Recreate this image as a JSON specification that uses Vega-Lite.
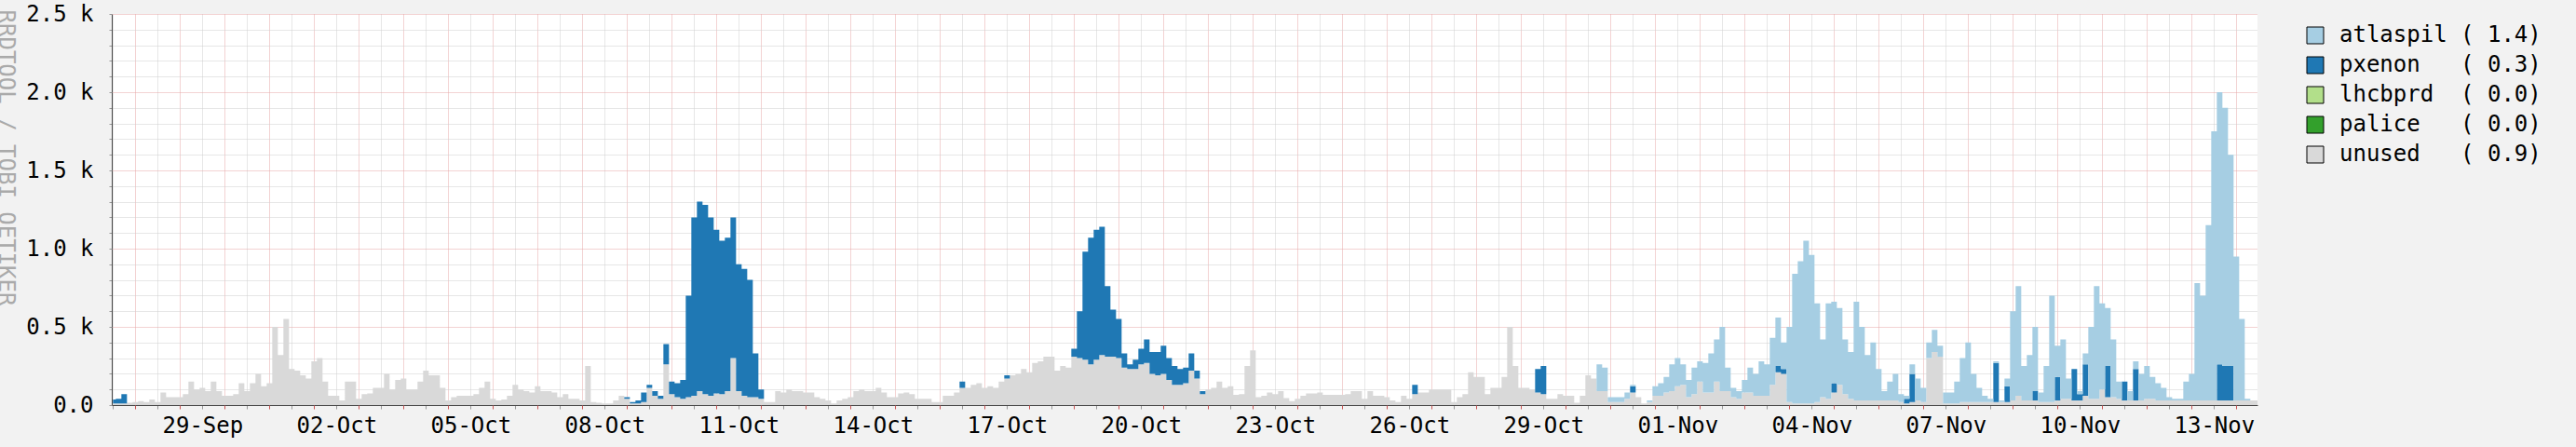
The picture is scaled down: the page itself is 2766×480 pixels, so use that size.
{
"$schema":"https://vega.github.io/schema/vega-lite/v6.json",
"width":2304,"height":420,
"autosize":{"type":"none"},
"padding":{"left":120,"top":15,"right":342,"bottom":45},
"background":"#f2f2f2",
"config":{"view":{"fill":"#ffffff","stroke":null},"font":"DejaVu Sans Mono"},
"data":{"values":[
{"t":"2023-09-27T12:00:00Z","u":10,"p":25,"a":0},{"t":"2023-09-27T15:00:00Z","u":10,"p":30,"a":0},{"t":"2023-09-27T18:00:00Z","u":10,"p":60,"a":0},{"t":"2023-09-27T21:00:00Z","u":15,"p":0,"a":0},
{"t":"2023-09-28T00:00:00Z","u":20,"p":0,"a":0},{"t":"2023-09-28T03:00:00Z","u":25,"p":0,"a":0},{"t":"2023-09-28T06:00:00Z","u":20,"p":0,"a":0},{"t":"2023-09-28T09:00:00Z","u":35,"p":0,"a":0},{"t":"2023-09-28T12:00:00Z","u":20,"p":0,"a":0},{"t":"2023-09-28T15:00:00Z","u":80,"p":0,"a":0},{"t":"2023-09-28T18:00:00Z","u":50,"p":0,"a":0},{"t":"2023-09-28T21:00:00Z","u":50,"p":0,"a":0},
{"t":"2023-09-29T00:00:00Z","u":50,"p":0,"a":0},{"t":"2023-09-29T03:00:00Z","u":70,"p":0,"a":0},{"t":"2023-09-29T06:00:00Z","u":150,"p":0,"a":0},{"t":"2023-09-29T09:00:00Z","u":100,"p":0,"a":0},{"t":"2023-09-29T12:00:00Z","u":110,"p":0,"a":0},{"t":"2023-09-29T15:00:00Z","u":90,"p":0,"a":0},{"t":"2023-09-29T18:00:00Z","u":150,"p":0,"a":0},{"t":"2023-09-29T21:00:00Z","u":90,"p":0,"a":0},
{"t":"2023-09-30T00:00:00Z","u":60,"p":0,"a":0},{"t":"2023-09-30T03:00:00Z","u":60,"p":0,"a":0},{"t":"2023-09-30T06:00:00Z","u":70,"p":0,"a":0},{"t":"2023-09-30T09:00:00Z","u":140,"p":0,"a":0},{"t":"2023-09-30T12:00:00Z","u":90,"p":0,"a":0},{"t":"2023-09-30T15:00:00Z","u":140,"p":0,"a":0},{"t":"2023-09-30T18:00:00Z","u":200,"p":0,"a":0},{"t":"2023-09-30T21:00:00Z","u":120,"p":0,"a":0},
{"t":"2023-10-01T00:00:00Z","u":140,"p":0,"a":0},{"t":"2023-10-01T03:00:00Z","u":500,"p":0,"a":0},{"t":"2023-10-01T06:00:00Z","u":320,"p":0,"a":0},{"t":"2023-10-01T09:00:00Z","u":550,"p":0,"a":0},{"t":"2023-10-01T12:00:00Z","u":230,"p":0,"a":0},{"t":"2023-10-01T15:00:00Z","u":220,"p":0,"a":0},{"t":"2023-10-01T18:00:00Z","u":190,"p":0,"a":0},{"t":"2023-10-01T21:00:00Z","u":170,"p":0,"a":0},
{"t":"2023-10-02T00:00:00Z","u":280,"p":0,"a":0},{"t":"2023-10-02T03:00:00Z","u":300,"p":0,"a":0},{"t":"2023-10-02T06:00:00Z","u":150,"p":0,"a":0},{"t":"2023-10-02T09:00:00Z","u":60,"p":0,"a":0},{"t":"2023-10-02T12:00:00Z","u":60,"p":0,"a":0},{"t":"2023-10-02T15:00:00Z","u":30,"p":0,"a":0},{"t":"2023-10-02T18:00:00Z","u":150,"p":0,"a":0},{"t":"2023-10-02T21:00:00Z","u":150,"p":0,"a":0},
{"t":"2023-10-03T00:00:00Z","u":40,"p":0,"a":0},{"t":"2023-10-03T03:00:00Z","u":70,"p":0,"a":0},{"t":"2023-10-03T06:00:00Z","u":75,"p":0,"a":0},{"t":"2023-10-03T09:00:00Z","u":110,"p":0,"a":0},{"t":"2023-10-03T12:00:00Z","u":110,"p":0,"a":0},{"t":"2023-10-03T15:00:00Z","u":200,"p":0,"a":0},{"t":"2023-10-03T18:00:00Z","u":100,"p":0,"a":0},{"t":"2023-10-03T21:00:00Z","u":160,"p":0,"a":0},
{"t":"2023-10-04T00:00:00Z","u":170,"p":0,"a":0},{"t":"2023-10-04T03:00:00Z","u":100,"p":0,"a":0},{"t":"2023-10-04T06:00:00Z","u":100,"p":0,"a":0},{"t":"2023-10-04T09:00:00Z","u":150,"p":0,"a":0},{"t":"2023-10-04T12:00:00Z","u":220,"p":0,"a":0},{"t":"2023-10-04T15:00:00Z","u":190,"p":0,"a":0},{"t":"2023-10-04T18:00:00Z","u":190,"p":0,"a":0},{"t":"2023-10-04T21:00:00Z","u":110,"p":0,"a":0},
{"t":"2023-10-05T00:00:00Z","u":30,"p":0,"a":0},{"t":"2023-10-05T03:00:00Z","u":50,"p":0,"a":0},{"t":"2023-10-05T06:00:00Z","u":60,"p":0,"a":0},{"t":"2023-10-05T09:00:00Z","u":60,"p":0,"a":0},{"t":"2023-10-05T12:00:00Z","u":60,"p":0,"a":0},{"t":"2023-10-05T15:00:00Z","u":70,"p":0,"a":0},{"t":"2023-10-05T18:00:00Z","u":110,"p":0,"a":0},{"t":"2023-10-05T21:00:00Z","u":150,"p":0,"a":0},
{"t":"2023-10-06T00:00:00Z","u":40,"p":0,"a":0},{"t":"2023-10-06T03:00:00Z","u":30,"p":0,"a":0},{"t":"2023-10-06T06:00:00Z","u":35,"p":0,"a":0},{"t":"2023-10-06T09:00:00Z","u":60,"p":0,"a":0},{"t":"2023-10-06T12:00:00Z","u":130,"p":0,"a":0},{"t":"2023-10-06T15:00:00Z","u":100,"p":0,"a":0},{"t":"2023-10-06T18:00:00Z","u":90,"p":0,"a":0},{"t":"2023-10-06T21:00:00Z","u":80,"p":0,"a":0},
{"t":"2023-10-07T00:00:00Z","u":120,"p":0,"a":0},{"t":"2023-10-07T03:00:00Z","u":90,"p":0,"a":0},{"t":"2023-10-07T06:00:00Z","u":90,"p":0,"a":0},{"t":"2023-10-07T09:00:00Z","u":80,"p":0,"a":0},{"t":"2023-10-07T12:00:00Z","u":50,"p":0,"a":0},{"t":"2023-10-07T15:00:00Z","u":70,"p":0,"a":0},{"t":"2023-10-07T18:00:00Z","u":40,"p":0,"a":0},{"t":"2023-10-07T21:00:00Z","u":40,"p":0,"a":0},
{"t":"2023-10-08T00:00:00Z","u":30,"p":0,"a":0},{"t":"2023-10-08T03:00:00Z","u":250,"p":0,"a":0},{"t":"2023-10-08T06:00:00Z","u":20,"p":0,"a":0},{"t":"2023-10-08T09:00:00Z","u":15,"p":0,"a":0},{"t":"2023-10-08T12:00:00Z","u":10,"p":0,"a":0},{"t":"2023-10-08T15:00:00Z","u":10,"p":0,"a":0},{"t":"2023-10-08T18:00:00Z","u":30,"p":0,"a":0},{"t":"2023-10-08T21:00:00Z","u":60,"p":0,"a":0},
{"t":"2023-10-09T00:00:00Z","u":40,"p":10,"a":0},{"t":"2023-10-09T03:00:00Z","u":10,"p":10,"a":0},{"t":"2023-10-09T06:00:00Z","u":10,"p":20,"a":0},{"t":"2023-10-09T09:00:00Z","u":20,"p":60,"a":0},{"t":"2023-10-09T12:00:00Z","u":110,"p":20,"a":0},{"t":"2023-10-09T15:00:00Z","u":60,"p":30,"a":0},{"t":"2023-10-09T18:00:00Z","u":40,"p":20,"a":0},{"t":"2023-10-09T21:00:00Z","u":260,"p":130,"a":0},
{"t":"2023-10-10T00:00:00Z","u":70,"p":80,"a":0},{"t":"2023-10-10T03:00:00Z","u":50,"p":90,"a":0},{"t":"2023-10-10T06:00:00Z","u":40,"p":120,"a":0},{"t":"2023-10-10T09:00:00Z","u":50,"p":650,"a":0},{"t":"2023-10-10T12:00:00Z","u":60,"p":1140,"a":0},{"t":"2023-10-10T15:00:00Z","u":90,"p":1210,"a":0},{"t":"2023-10-10T18:00:00Z","u":70,"p":1210,"a":0},{"t":"2023-10-10T21:00:00Z","u":60,"p":1140,"a":0},
{"t":"2023-10-11T00:00:00Z","u":75,"p":1045,"a":0},{"t":"2023-10-11T03:00:00Z","u":70,"p":980,"a":0},{"t":"2023-10-11T06:00:00Z","u":90,"p":980,"a":0},{"t":"2023-10-11T09:00:00Z","u":300,"p":900,"a":0},{"t":"2023-10-11T12:00:00Z","u":90,"p":810,"a":0},{"t":"2023-10-11T15:00:00Z","u":60,"p":810,"a":0},{"t":"2023-10-11T18:00:00Z","u":50,"p":750,"a":0},{"t":"2023-10-11T21:00:00Z","u":50,"p":280,"a":0},
{"t":"2023-10-12T00:00:00Z","u":40,"p":60,"a":0},{"t":"2023-10-12T03:00:00Z","u":20,"p":0,"a":0},{"t":"2023-10-12T06:00:00Z","u":20,"p":0,"a":0},{"t":"2023-10-12T09:00:00Z","u":90,"p":0,"a":0},{"t":"2023-10-12T12:00:00Z","u":80,"p":0,"a":0},{"t":"2023-10-12T15:00:00Z","u":100,"p":0,"a":0},{"t":"2023-10-12T18:00:00Z","u":90,"p":0,"a":0},{"t":"2023-10-12T21:00:00Z","u":90,"p":0,"a":0},
{"t":"2023-10-13T00:00:00Z","u":80,"p":0,"a":0},{"t":"2023-10-13T03:00:00Z","u":80,"p":0,"a":0},{"t":"2023-10-13T06:00:00Z","u":50,"p":0,"a":0},{"t":"2023-10-13T09:00:00Z","u":40,"p":0,"a":0},{"t":"2023-10-13T12:00:00Z","u":30,"p":0,"a":0},{"t":"2023-10-13T15:00:00Z","u":10,"p":0,"a":0},{"t":"2023-10-13T18:00:00Z","u":30,"p":0,"a":0},{"t":"2023-10-13T21:00:00Z","u":40,"p":0,"a":0},
{"t":"2023-10-14T00:00:00Z","u":50,"p":0,"a":0},{"t":"2023-10-14T03:00:00Z","u":90,"p":0,"a":0},{"t":"2023-10-14T06:00:00Z","u":100,"p":0,"a":0},{"t":"2023-10-14T09:00:00Z","u":90,"p":0,"a":0},{"t":"2023-10-14T12:00:00Z","u":90,"p":0,"a":0},{"t":"2023-10-14T15:00:00Z","u":110,"p":0,"a":0},{"t":"2023-10-14T18:00:00Z","u":80,"p":0,"a":0},{"t":"2023-10-14T21:00:00Z","u":50,"p":0,"a":0},
{"t":"2023-10-15T00:00:00Z","u":50,"p":0,"a":0},{"t":"2023-10-15T03:00:00Z","u":75,"p":0,"a":0},{"t":"2023-10-15T06:00:00Z","u":80,"p":0,"a":0},{"t":"2023-10-15T09:00:00Z","u":70,"p":0,"a":0},{"t":"2023-10-15T12:00:00Z","u":40,"p":0,"a":0},{"t":"2023-10-15T15:00:00Z","u":40,"p":0,"a":0},{"t":"2023-10-15T18:00:00Z","u":40,"p":0,"a":0},{"t":"2023-10-15T21:00:00Z","u":20,"p":0,"a":0},
{"t":"2023-10-16T00:00:00Z","u":20,"p":0,"a":0},{"t":"2023-10-16T03:00:00Z","u":60,"p":0,"a":0},{"t":"2023-10-16T06:00:00Z","u":60,"p":0,"a":0},{"t":"2023-10-16T09:00:00Z","u":80,"p":0,"a":0},{"t":"2023-10-16T12:00:00Z","u":110,"p":40,"a":0},{"t":"2023-10-16T15:00:00Z","u":110,"p":0,"a":0},{"t":"2023-10-16T18:00:00Z","u":130,"p":0,"a":0},{"t":"2023-10-16T21:00:00Z","u":140,"p":0,"a":0},
{"t":"2023-10-17T00:00:00Z","u":110,"p":0,"a":0},{"t":"2023-10-17T03:00:00Z","u":120,"p":0,"a":0},{"t":"2023-10-17T06:00:00Z","u":110,"p":0,"a":0},{"t":"2023-10-17T09:00:00Z","u":150,"p":0,"a":0},{"t":"2023-10-17T12:00:00Z","u":170,"p":20,"a":0},{"t":"2023-10-17T15:00:00Z","u":190,"p":0,"a":0},{"t":"2023-10-17T18:00:00Z","u":200,"p":0,"a":0},{"t":"2023-10-17T21:00:00Z","u":230,"p":0,"a":0},
{"t":"2023-10-18T00:00:00Z","u":210,"p":0,"a":0},{"t":"2023-10-18T03:00:00Z","u":270,"p":0,"a":0},{"t":"2023-10-18T06:00:00Z","u":280,"p":0,"a":0},{"t":"2023-10-18T09:00:00Z","u":310,"p":0,"a":0},{"t":"2023-10-18T12:00:00Z","u":310,"p":0,"a":0},{"t":"2023-10-18T15:00:00Z","u":220,"p":0,"a":0},{"t":"2023-10-18T18:00:00Z","u":250,"p":0,"a":0},{"t":"2023-10-18T21:00:00Z","u":240,"p":0,"a":0},
{"t":"2023-10-19T00:00:00Z","u":310,"p":50,"a":0},{"t":"2023-10-19T03:00:00Z","u":300,"p":300,"a":0},{"t":"2023-10-19T06:00:00Z","u":290,"p":690,"a":0},{"t":"2023-10-19T09:00:00Z","u":260,"p":810,"a":0},{"t":"2023-10-19T12:00:00Z","u":290,"p":830,"a":0},{"t":"2023-10-19T15:00:00Z","u":320,"p":820,"a":0},{"t":"2023-10-19T18:00:00Z","u":310,"p":450,"a":0},{"t":"2023-10-19T21:00:00Z","u":310,"p":300,"a":0},
{"t":"2023-10-20T00:00:00Z","u":300,"p":250,"a":0},{"t":"2023-10-20T03:00:00Z","u":240,"p":90,"a":0},{"t":"2023-10-20T06:00:00Z","u":230,"p":30,"a":0},{"t":"2023-10-20T09:00:00Z","u":230,"p":60,"a":0},{"t":"2023-10-20T12:00:00Z","u":260,"p":100,"a":0},{"t":"2023-10-20T15:00:00Z","u":270,"p":150,"a":0},{"t":"2023-10-20T18:00:00Z","u":200,"p":140,"a":0},{"t":"2023-10-20T21:00:00Z","u":190,"p":150,"a":0},
{"t":"2023-10-21T00:00:00Z","u":200,"p":180,"a":0},{"t":"2023-10-21T03:00:00Z","u":160,"p":140,"a":0},{"t":"2023-10-21T06:00:00Z","u":130,"p":120,"a":0},{"t":"2023-10-21T09:00:00Z","u":130,"p":100,"a":0},{"t":"2023-10-21T12:00:00Z","u":140,"p":100,"a":0},{"t":"2023-10-21T15:00:00Z","u":220,"p":110,"a":0},{"t":"2023-10-21T18:00:00Z","u":170,"p":50,"a":0},{"t":"2023-10-21T21:00:00Z","u":70,"p":20,"a":0},
{"t":"2023-10-22T00:00:00Z","u":100,"p":0,"a":0},{"t":"2023-10-22T03:00:00Z","u":110,"p":0,"a":0},{"t":"2023-10-22T06:00:00Z","u":150,"p":0,"a":0},{"t":"2023-10-22T09:00:00Z","u":110,"p":0,"a":0},{"t":"2023-10-22T12:00:00Z","u":120,"p":0,"a":0},{"t":"2023-10-22T15:00:00Z","u":65,"p":0,"a":0},{"t":"2023-10-22T18:00:00Z","u":70,"p":0,"a":0},{"t":"2023-10-22T21:00:00Z","u":250,"p":0,"a":0},
{"t":"2023-10-23T00:00:00Z","u":350,"p":0,"a":0},{"t":"2023-10-23T03:00:00Z","u":50,"p":0,"a":0},{"t":"2023-10-23T06:00:00Z","u":60,"p":0,"a":0},{"t":"2023-10-23T09:00:00Z","u":80,"p":0,"a":0},{"t":"2023-10-23T12:00:00Z","u":70,"p":0,"a":0},{"t":"2023-10-23T15:00:00Z","u":90,"p":0,"a":0},{"t":"2023-10-23T18:00:00Z","u":45,"p":0,"a":0},{"t":"2023-10-23T21:00:00Z","u":25,"p":0,"a":0},
{"t":"2023-10-24T00:00:00Z","u":40,"p":0,"a":0},{"t":"2023-10-24T03:00:00Z","u":60,"p":0,"a":0},{"t":"2023-10-24T06:00:00Z","u":75,"p":0,"a":0},{"t":"2023-10-24T09:00:00Z","u":75,"p":0,"a":0},{"t":"2023-10-24T12:00:00Z","u":80,"p":0,"a":0},{"t":"2023-10-24T15:00:00Z","u":65,"p":0,"a":0},{"t":"2023-10-24T18:00:00Z","u":65,"p":0,"a":0},{"t":"2023-10-24T21:00:00Z","u":65,"p":0,"a":0},
{"t":"2023-10-25T00:00:00Z","u":65,"p":0,"a":0},{"t":"2023-10-25T03:00:00Z","u":70,"p":0,"a":0},{"t":"2023-10-25T06:00:00Z","u":90,"p":0,"a":0},{"t":"2023-10-25T09:00:00Z","u":90,"p":0,"a":0},{"t":"2023-10-25T12:00:00Z","u":40,"p":0,"a":0},{"t":"2023-10-25T15:00:00Z","u":90,"p":0,"a":0},{"t":"2023-10-25T18:00:00Z","u":60,"p":0,"a":0},{"t":"2023-10-25T21:00:00Z","u":60,"p":0,"a":0},
{"t":"2023-10-26T00:00:00Z","u":50,"p":0,"a":0},{"t":"2023-10-26T03:00:00Z","u":30,"p":0,"a":0},{"t":"2023-10-26T06:00:00Z","u":20,"p":0,"a":0},{"t":"2023-10-26T09:00:00Z","u":60,"p":0,"a":0},{"t":"2023-10-26T12:00:00Z","u":40,"p":0,"a":0},{"t":"2023-10-26T15:00:00Z","u":70,"p":60,"a":0},{"t":"2023-10-26T18:00:00Z","u":80,"p":0,"a":0},{"t":"2023-10-26T21:00:00Z","u":80,"p":0,"a":0},
{"t":"2023-10-27T00:00:00Z","u":100,"p":0,"a":0},{"t":"2023-10-27T03:00:00Z","u":100,"p":0,"a":0},{"t":"2023-10-27T06:00:00Z","u":100,"p":0,"a":0},{"t":"2023-10-27T09:00:00Z","u":100,"p":0,"a":0},{"t":"2023-10-27T12:00:00Z","u":20,"p":0,"a":0},{"t":"2023-10-27T15:00:00Z","u":50,"p":0,"a":0},{"t":"2023-10-27T18:00:00Z","u":70,"p":0,"a":0},{"t":"2023-10-27T21:00:00Z","u":210,"p":0,"a":0},
{"t":"2023-10-28T00:00:00Z","u":180,"p":0,"a":0},{"t":"2023-10-28T03:00:00Z","u":180,"p":0,"a":0},{"t":"2023-10-28T06:00:00Z","u":70,"p":0,"a":0},{"t":"2023-10-28T09:00:00Z","u":110,"p":0,"a":0},{"t":"2023-10-28T12:00:00Z","u":110,"p":0,"a":0},{"t":"2023-10-28T15:00:00Z","u":180,"p":0,"a":0},{"t":"2023-10-28T18:00:00Z","u":500,"p":0,"a":0},{"t":"2023-10-28T21:00:00Z","u":250,"p":0,"a":0},
{"t":"2023-10-29T00:00:00Z","u":110,"p":0,"a":0},{"t":"2023-10-29T03:00:00Z","u":110,"p":0,"a":0},{"t":"2023-10-29T06:00:00Z","u":100,"p":0,"a":0},{"t":"2023-10-29T09:00:00Z","u":80,"p":150,"a":0},{"t":"2023-10-29T12:00:00Z","u":70,"p":180,"a":0},{"t":"2023-10-29T15:00:00Z","u":40,"p":0,"a":0},{"t":"2023-10-29T18:00:00Z","u":40,"p":0,"a":0},{"t":"2023-10-29T21:00:00Z","u":70,"p":0,"a":0},
{"t":"2023-10-30T00:00:00Z","u":60,"p":0,"a":0},{"t":"2023-10-30T03:00:00Z","u":60,"p":0,"a":0},{"t":"2023-10-30T06:00:00Z","u":15,"p":0,"a":0},{"t":"2023-10-30T09:00:00Z","u":60,"p":0,"a":0},{"t":"2023-10-30T12:00:00Z","u":190,"p":0,"a":0},{"t":"2023-10-30T15:00:00Z","u":170,"p":0,"a":0},{"t":"2023-10-30T18:00:00Z","u":90,"p":0,"a":170},{"t":"2023-10-30T21:00:00Z","u":90,"p":0,"a":150},
{"t":"2023-10-31T00:00:00Z","u":20,"p":0,"a":30},{"t":"2023-10-31T03:00:00Z","u":20,"p":0,"a":30},{"t":"2023-10-31T06:00:00Z","u":20,"p":0,"a":30},{"t":"2023-10-31T09:00:00Z","u":40,"p":0,"a":40},{"t":"2023-10-31T12:00:00Z","u":80,"p":40,"a":10},{"t":"2023-10-31T15:00:00Z","u":50,"p":0,"a":0},{"t":"2023-10-31T18:00:00Z","u":10,"p":0,"a":0},{"t":"2023-10-31T21:00:00Z","u":20,"p":0,"a":10},
{"t":"2023-11-01T00:00:00Z","u":60,"p":0,"a":60},{"t":"2023-11-01T03:00:00Z","u":60,"p":0,"a":80},{"t":"2023-11-01T06:00:00Z","u":80,"p":0,"a":100},{"t":"2023-11-01T09:00:00Z","u":90,"p":0,"a":170},{"t":"2023-11-01T12:00:00Z","u":120,"p":0,"a":180},{"t":"2023-11-01T15:00:00Z","u":130,"p":0,"a":130},{"t":"2023-11-01T18:00:00Z","u":50,"p":0,"a":110},{"t":"2023-11-01T21:00:00Z","u":70,"p":0,"a":170},
{"t":"2023-11-02T00:00:00Z","u":150,"p":0,"a":130},{"t":"2023-11-02T03:00:00Z","u":80,"p":0,"a":190},{"t":"2023-11-02T06:00:00Z","u":80,"p":0,"a":250},{"t":"2023-11-02T09:00:00Z","u":150,"p":0,"a":270},{"t":"2023-11-02T12:00:00Z","u":90,"p":0,"a":410},{"t":"2023-11-02T15:00:00Z","u":90,"p":0,"a":150},{"t":"2023-11-02T18:00:00Z","u":50,"p":0,"a":60},{"t":"2023-11-02T21:00:00Z","u":40,"p":0,"a":50},
{"t":"2023-11-03T00:00:00Z","u":80,"p":0,"a":80},{"t":"2023-11-03T03:00:00Z","u":80,"p":0,"a":160},{"t":"2023-11-03T06:00:00Z","u":60,"p":0,"a":140},{"t":"2023-11-03T09:00:00Z","u":60,"p":0,"a":220},{"t":"2023-11-03T12:00:00Z","u":60,"p":0,"a":200},{"t":"2023-11-03T15:00:00Z","u":130,"p":0,"a":300},{"t":"2023-11-03T18:00:00Z","u":210,"p":40,"a":310},{"t":"2023-11-03T21:00:00Z","u":200,"p":30,"a":170},
{"t":"2023-11-04T00:00:00Z","u":20,"p":0,"a":480},{"t":"2023-11-04T03:00:00Z","u":10,"p":0,"a":830},{"t":"2023-11-04T06:00:00Z","u":10,"p":0,"a":910},{"t":"2023-11-04T09:00:00Z","u":10,"p":0,"a":1040},{"t":"2023-11-04T12:00:00Z","u":10,"p":0,"a":950},{"t":"2023-11-04T15:00:00Z","u":20,"p":0,"a":630},{"t":"2023-11-04T18:00:00Z","u":50,"p":0,"a":370},{"t":"2023-11-04T21:00:00Z","u":40,"p":0,"a":610},
{"t":"2023-11-05T00:00:00Z","u":80,"p":60,"a":520},{"t":"2023-11-05T03:00:00Z","u":130,"p":0,"a":490},{"t":"2023-11-05T06:00:00Z","u":70,"p":0,"a":350},{"t":"2023-11-05T09:00:00Z","u":40,"p":0,"a":300},{"t":"2023-11-05T12:00:00Z","u":30,"p":0,"a":630},{"t":"2023-11-05T15:00:00Z","u":30,"p":0,"a":470},{"t":"2023-11-05T18:00:00Z","u":30,"p":0,"a":290},{"t":"2023-11-05T21:00:00Z","u":30,"p":0,"a":370},
{"t":"2023-11-06T00:00:00Z","u":30,"p":0,"a":200},{"t":"2023-11-06T03:00:00Z","u":30,"p":0,"a":60},{"t":"2023-11-06T06:00:00Z","u":30,"p":0,"a":120},{"t":"2023-11-06T09:00:00Z","u":30,"p":0,"a":170},{"t":"2023-11-06T12:00:00Z","u":20,"p":0,"a":50},{"t":"2023-11-06T15:00:00Z","u":10,"p":30,"a":20},{"t":"2023-11-06T18:00:00Z","u":20,"p":180,"a":60},{"t":"2023-11-06T21:00:00Z","u":30,"p":0,"a":140},
{"t":"2023-11-07T00:00:00Z","u":20,"p":0,"a":90},{"t":"2023-11-07T03:00:00Z","u":300,"p":0,"a":100},{"t":"2023-11-07T06:00:00Z","u":340,"p":0,"a":140},{"t":"2023-11-07T09:00:00Z","u":310,"p":0,"a":70},{"t":"2023-11-07T12:00:00Z","u":10,"p":0,"a":70},{"t":"2023-11-07T15:00:00Z","u":10,"p":0,"a":70},{"t":"2023-11-07T18:00:00Z","u":10,"p":0,"a":140},{"t":"2023-11-07T21:00:00Z","u":20,"p":0,"a":280},
{"t":"2023-11-08T00:00:00Z","u":20,"p":0,"a":380},{"t":"2023-11-08T03:00:00Z","u":20,"p":0,"a":180},{"t":"2023-11-08T06:00:00Z","u":20,"p":0,"a":90},{"t":"2023-11-08T09:00:00Z","u":20,"p":0,"a":40},{"t":"2023-11-08T12:00:00Z","u":20,"p":0,"a":20},{"t":"2023-11-08T15:00:00Z","u":20,"p":250,"a":10},{"t":"2023-11-08T18:00:00Z","u":20,"p":0,"a":10},{"t":"2023-11-08T21:00:00Z","u":20,"p":100,"a":50},
{"t":"2023-11-09T00:00:00Z","u":30,"p":0,"a":570},{"t":"2023-11-09T03:00:00Z","u":60,"p":0,"a":700},{"t":"2023-11-09T06:00:00Z","u":30,"p":0,"a":220},{"t":"2023-11-09T09:00:00Z","u":30,"p":0,"a":290},{"t":"2023-11-09T12:00:00Z","u":30,"p":60,"a":410},{"t":"2023-11-09T15:00:00Z","u":20,"p":0,"a":60},{"t":"2023-11-09T18:00:00Z","u":20,"p":0,"a":230},{"t":"2023-11-09T21:00:00Z","u":20,"p":0,"a":680},
{"t":"2023-11-10T00:00:00Z","u":30,"p":150,"a":200},{"t":"2023-11-10T03:00:00Z","u":40,"p":0,"a":380},{"t":"2023-11-10T06:00:00Z","u":40,"p":0,"a":130},{"t":"2023-11-10T09:00:00Z","u":30,"p":200,"a":0},{"t":"2023-11-10T12:00:00Z","u":30,"p":40,"a":20},{"t":"2023-11-10T15:00:00Z","u":60,"p":200,"a":70},{"t":"2023-11-10T18:00:00Z","u":40,"p":0,"a":460},{"t":"2023-11-10T21:00:00Z","u":40,"p":0,"a":720},
{"t":"2023-11-11T00:00:00Z","u":100,"p":0,"a":550},{"t":"2023-11-11T03:00:00Z","u":50,"p":200,"a":370},{"t":"2023-11-11T06:00:00Z","u":50,"p":0,"a":370},{"t":"2023-11-11T09:00:00Z","u":40,"p":0,"a":110},{"t":"2023-11-11T12:00:00Z","u":30,"p":120,"a":0},{"t":"2023-11-11T15:00:00Z","u":30,"p":0,"a":60},{"t":"2023-11-11T18:00:00Z","u":30,"p":200,"a":50},{"t":"2023-11-11T21:00:00Z","u":30,"p":0,"a":170},
{"t":"2023-11-12T00:00:00Z","u":40,"p":0,"a":210},{"t":"2023-11-12T03:00:00Z","u":40,"p":0,"a":140},{"t":"2023-11-12T06:00:00Z","u":30,"p":0,"a":110},{"t":"2023-11-12T09:00:00Z","u":30,"p":0,"a":80},{"t":"2023-11-12T12:00:00Z","u":30,"p":0,"a":20},{"t":"2023-11-12T15:00:00Z","u":30,"p":0,"a":10},{"t":"2023-11-12T18:00:00Z","u":30,"p":0,"a":10},{"t":"2023-11-12T21:00:00Z","u":30,"p":0,"a":120},
{"t":"2023-11-13T00:00:00Z","u":30,"p":0,"a":170},{"t":"2023-11-13T03:00:00Z","u":30,"p":0,"a":750},{"t":"2023-11-13T06:00:00Z","u":30,"p":0,"a":670},{"t":"2023-11-13T09:00:00Z","u":30,"p":0,"a":1120},{"t":"2023-11-13T12:00:00Z","u":30,"p":0,"a":1720},{"t":"2023-11-13T15:00:00Z","u":30,"p":230,"a":1740},{"t":"2023-11-13T18:00:00Z","u":30,"p":220,"a":1650},{"t":"2023-11-13T21:00:00Z","u":30,"p":220,"a":1350},
{"t":"2023-11-14T00:00:00Z","u":30,"p":0,"a":920},{"t":"2023-11-14T03:00:00Z","u":30,"p":0,"a":520},{"t":"2023-11-14T06:00:00Z","u":30,"p":0,"a":10},{"t":"2023-11-14T09:00:00Z","u":30,"p":0,"a":0},{"t":"2023-11-14T12:00:00Z","u":30,"p":0,"a":0}
]},
"transform":[
{"fold":["u","p","a"],"as":["key","value"]},
{"calculate":"indexof(['u','c','l','p','a'], datum.key)","as":"k"}
],
"layer":[
{
"mark":{"type":"area","interpolate":"step","clip":true,"opacity":1},
"encoding":{
"x":{"field":"t","type":"temporal",
 "scale":{"type":"utc","domain":[1695813600000,1699960800000]},
 "axis":{"title":null,"orient":"bottom",
  "values":[1695816000000,1695902400000,1695988800000,1696075200000,1696161600000,1696248000000,1696334400000,1696420800000,1696507200000,1696593600000,1696680000000,1696766400000,1696852800000,1696939200000,1697025600000,1697112000000,1697198400000,1697284800000,1697371200000,1697457600000,1697544000000,1697630400000,1697716800000,1697803200000,1697889600000,1697976000000,1698062400000,1698148800000,1698235200000,1698321600000,1698408000000,1698494400000,1698580800000,1698667200000,1698753600000,1698840000000,1698926400000,1699012800000,1699099200000,1699185600000,1699272000000,1699358400000,1699444800000,1699531200000,1699617600000,1699704000000,1699790400000,1699876800000],
  "grid":true,"gridColor":"#cfcfcf","gridDash":[1,1],
  "tickColor":"#999999","tickSize":4,"domainColor":"#444444",
  "labelExpr":"round((datum.value - 1695988800000)/86400000) % 3 == 0 ? utcFormat(datum.value,'%d-%b') : ''",
  "labelFontSize":24,"labelColor":"#000000","labelPadding":6,"labelOverlap":false,"labelFlush":false}},
"y":{"field":"value","type":"quantitative","stack":"zero",
 "scale":{"domain":[0,2500],"nice":false},
 "axis":{"title":null,"orient":"left",
  "values":[100,200,300,400,600,700,800,900,1100,1200,1300,1400,1600,1700,1800,1900,2100,2200,2300,2400],
  "grid":true,"gridColor":"#cfcfcf","gridDash":[1,1],
  "tickColor":"#999999","tickSize":3,"domainColor":"#444444","labels":false}},
"color":{"field":"key","type":"nominal",
 "scale":{"domain":["a","p","l","c","u"],"range":["#a6cee3","#1f78b4","#b2df8a","#33a02c","#d9d9d9"]},
 "legend":{"orient":"none","legendX":2354,"legendY":11,"title":null,
  "symbolType":"square","symbolSize":324,"symbolStrokeColor":"#000000","symbolStrokeWidth":1,
  "labelFontSize":24,"labelColor":"#000000","labelOffset":14,"rowPadding":8,"labelLimit":400,
  "labelExpr":"datum.label == 'a' ? 'atlaspil\u00a0(\u00a01.4)' : datum.label == 'p' ? 'pxenon\u00a0\u00a0\u00a0(\u00a00.3)' : datum.label == 'l' ? 'lhcbprd\u00a0\u00a0(\u00a00.0)' : datum.label == 'c' ? 'palice\u00a0\u00a0\u00a0(\u00a00.0)' : 'unused\u00a0\u00a0\u00a0(\u00a00.9)'"}},
"order":{"field":"k","type":"quantitative"}
}
},
{
"mark":{"type":"point","opacity":0},
"encoding":{
"x":{"field":"t","type":"temporal",
 "scale":{"type":"utc","domain":[1695813600000,1699960800000]},
 "axis":{"title":null,"orient":"bottom",
  "values":[1695859200000,1695945600000,1696032000000,1696118400000,1696204800000,1696291200000,1696377600000,1696464000000,1696550400000,1696636800000,1696723200000,1696809600000,1696896000000,1696982400000,1697068800000,1697155200000,1697241600000,1697328000000,1697414400000,1697500800000,1697587200000,1697673600000,1697760000000,1697846400000,1697932800000,1698019200000,1698105600000,1698192000000,1698278400000,1698364800000,1698451200000,1698537600000,1698624000000,1698710400000,1698796800000,1698883200000,1698969600000,1699056000000,1699142400000,1699228800000,1699315200000,1699401600000,1699488000000,1699574400000,1699660800000,1699747200000,1699833600000,1699920000000],
  "grid":true,"gridColor":"#e6a6a6","gridDash":[1,1],
  "tickColor":"#cc5555","tickSize":4,"domain":false,"labels":false}},
"y":{"field":"value","type":"quantitative",
 "scale":{"domain":[0,2500],"nice":false},
 "axis":{"title":"RRDTOOL / TOBI OETIKER","orient":"left","titleAngle":90,"titleColor":"#aaaaaa","titleFontSize":24,"titleFontWeight":"normal","titleX":-127,"titleY":154,
  "values":[0,500,1000,1500,2000,2500],
  "grid":true,"gridColor":"#e6a6a6","gridDash":[1,1],
  "tickColor":"#999999","tickSize":3,"domain":false,
  "labelExpr":"datum.value == 0 ? '0.0\u00a0\u00a0' : format(datum.value/1000, '.1f') + '\u00a0k'",
  "labelFontSize":24,"labelColor":"#000000","labelPadding":17}}
}
}
],
"resolve":{"axis":{"x":"independent","y":"independent"}}
}
